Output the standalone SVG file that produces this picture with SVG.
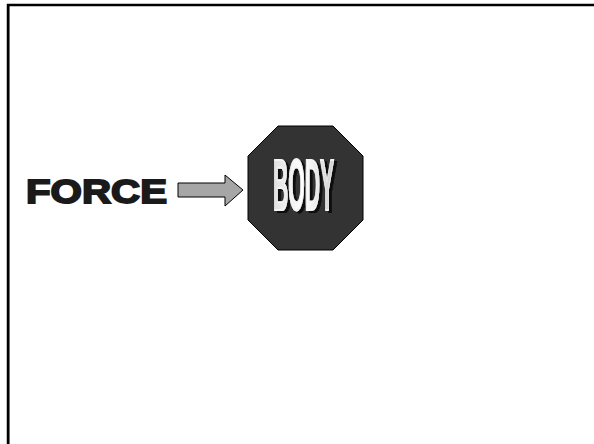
<svg xmlns="http://www.w3.org/2000/svg" width="594" height="444" viewBox="0 0 594 444">
<style>
.frame{stroke:#000;stroke-width:2.5;fill:none}
.shadow{stroke:#999;stroke-width:1;fill:none}
.oct{fill:#333;stroke:#000;stroke-width:1}
.arrow{fill:#a6a6a6;stroke:#000;stroke-width:1}
.force{font-family:"Liberation Sans",Arial,sans-serif;font-weight:bold;font-size:33px;fill:#1a1a1a;stroke:#1a1a1a;stroke-width:1.8}
.body{font-family:"Liberation Sans",Arial,sans-serif;font-weight:bold;font-size:73px;fill:url(#bg);stroke:#f4f4f4;stroke-width:2.2;filter:url(#ds)}
</style>
<defs>
<linearGradient id="bg" x1="0" y1="0" x2="1" y2="0">
<stop offset="0" stop-color="#e0e0e0"/><stop offset="0.5" stop-color="#ffffff"/><stop offset="1" stop-color="#cfcfcf"/>
</linearGradient>
<filter id="ds" x="-20%" y="-20%" width="140%" height="140%">
<feOffset in="SourceAlpha" dx="3" dy="2" result="o"/>
<feFlood flood-color="#0a0a0a"/>
<feComposite in2="o" operator="in" result="s"/>
<feMerge><feMergeNode in="s"/><feMergeNode in="SourceGraphic"/></feMerge>
</filter>
</defs>
<rect width="594" height="444" fill="#fff"/>
<g id="frame">
<line class="shadow" x1="9.5" y1="6" x2="9.5" y2="444"/>
<polyline class="frame" points="8,444 8,5 594,5"/>
</g>
<g id="connectors">
<polygon class="arrow" points="178,183 225,183 225,175 243,190 225,206 225,197 178,197"/>
</g>
<g id="force">
<text class="force" x="26" y="203" textLength="141" lengthAdjust="spacingAndGlyphs">FORCE</text>
</g>
<g id="body">
<polygon class="oct" points="278,126 333,126 363,156 363,220 333,250 278,250 248,220 248,156"/>
<text class="body" x="273" y="210" textLength="61" lengthAdjust="spacingAndGlyphs">BODY</text>
</g>
</svg>
